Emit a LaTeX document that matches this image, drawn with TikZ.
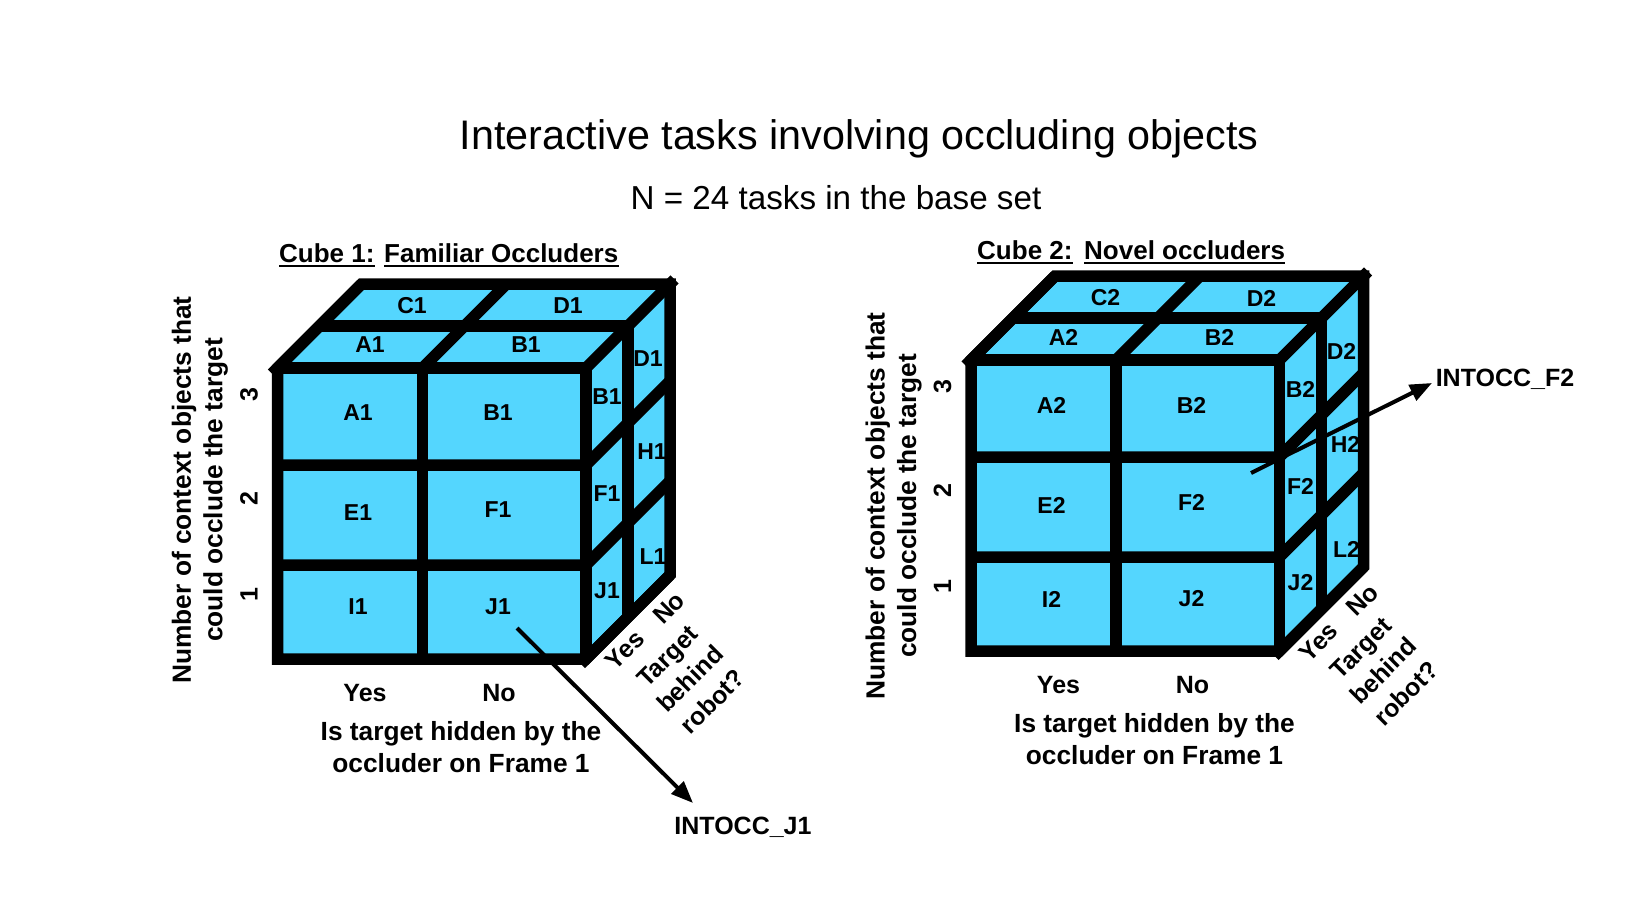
\documentclass[tikz,border=0pt]{standalone}
\usepackage{fontspec}
\setmainfont{Liberation Sans}
\usetikzlibrary{arrows.meta}
\definecolor{cub}{RGB}{84,214,254}
\tikzset{
  cell/.style={font=\bfseries\fontsize{23}{23}\selectfont, inner sep=0pt},
  axlbl/.style={font=\bfseries\fontsize{25}{32}\selectfont, inner sep=0pt, align=center},
  axbig/.style={font=\bfseries\fontsize{26.3}{31.5}\selectfont, inner sep=0pt, align=center},
  grid/.style={line width=11.5pt, line join=miter, black},
  pointer/.style={line width=4pt, -{Triangle[length=22pt,width=17pt]}},
  head/.style={font=\bfseries\fontsize{26}{26}\selectfont, inner sep=0pt, anchor=base west},
}
\newcommand\mycube[4]{%
\begin{scope}[shift={(#1,#2)}]
  \fill[cub] (277.5,368) rectangle (586,659);
  \fill[cub] (277.5,368) -- (361.5,284) -- (670,284) -- (586,368) -- cycle;
  \fill[cub] (586,368) -- (670,284) -- (670,575) -- (586,659) -- cycle;
  % front labels
  \node[cell] (fA#3) at (358,413) {A#3};
  \node[cell] (fB#3) at (498,413) {B#3};
  \node[cell] (fE#3) at (358,513) {E#3};
  \node[cell] (fF#3) at (498,510) {F#3};
  \node[cell] (fI#3) at (358,607) {I#3};
  \node[cell] (fJ#3) at (498,607) {J#3};
  % top labels
  \node[cell] (tC#3) at (412,306) {C#3};
  \node[cell] (tD#3) at (568,306) {D#3};
  \node[cell] (tA#3) at (370,345) {A#3};
  \node[cell] (tB#3) at (526,345) {B#3};
  % side labels
  \node[cell] (sB#3) at (607,397) {B#3};
  \node[cell] (sD#3) at (648,359) {D#3};
  \node[cell] (sF#3) at (607,494) {F#3};
  \node[cell] (sH#3) at (652,452) {H#3};
  \node[cell] (sJ#3) at (607,591) {J#3};
  \node[cell] (sL#3) at (653,557) {L#3};
  % grid
  \draw[grid] (277.5,659) -- (277.5,368) -- (361.5,284) -- (670,284) -- (670,575) -- (586,659) -- cycle;
  \draw[grid] (277.5,368) -- (586,368) -- (586,659);
  \draw[grid] (422.5,368) -- (422.5,659);
  \draw[grid] (277.5,465) -- (586,465) -- (670,381);
  \draw[grid] (277.5,565) -- (586,565) -- (670,481);
  \draw[grid] (319.5,326) -- (628,326) -- (628,617);
  \draw[grid] (422.5,368) -- (506.5,284);
  % slanted edges running slightly past the corners
  \draw[grid] (361.5,284) -- (272,373.5);
  \draw[grid] (586,368) -- (674.5,279.5);
  \draw[grid] (670,575) -- (581,664);
  % axis labels
  \node[axbig, rotate=90] (vax#3) at (200,#4) {Number of context objects that\\could occlude the target};
  \node[axlbl, rotate=90] (n3#3) at (249,395) {3};
  \node[axlbl, rotate=90] (n2#3) at (249,499) {2};
  \node[axlbl, rotate=90] (n1#3) at (249,595) {1};
  \node[axlbl] (hy#3) at (365,693) {Yes};
  \node[axlbl] (hn#3) at (499,693) {No};
  \node[axbig] (hq#3) at (461,747) {Is target hidden by the\\occluder on Frame 1};
  \node[axlbl, rotate=45] (dy#3) at (625,650) {Yes};
  \node[axlbl, rotate=45] (dn#3) at (669,608) {No};
  \node[axlbl, rotate=45] (dq#3) at (690,679) {Target\\behind\\robot?};
\end{scope}}
\begin{document}
\begin{tikzpicture}[x=1pt,y=-1pt]
  \fill[white] (0,0) rectangle (1638,908);
  \useasboundingbox (0,0) rectangle (1638,908);
  \node[font=\fontsize{41.3}{41.3}\selectfont, inner sep=0pt] (title) at (859,139) {Interactive tasks involving occluding objects};
  \node[font=\fontsize{33.2}{33.2}\selectfont, inner sep=0pt] (sub) at (836,198) {N = 24 tasks in the base set};
  \mycube{0}{0}{1}{490}
  \mycube{693.5}{-8}{2}{514}
  % headings
  \node[head] (h1a) at (279,262) {Cube 1:};
  \node[head] (h1b) at (384,262) {Familiar Occluders};
  \node[head] (h2a) at (977,259) {Cube 2:};
  \node[head] (h2b) at (1084,259) {Novel occluders};
  \foreach \n in {h1a,h1b,h2a,h2b}{
    \draw[line width=2pt] ([yshift=-4pt]\n.base west) -- ([yshift=-4pt]\n.base east);
  }
  % pointers
  \node[axlbl] (oj1) at (743,827) {INTOCC\_J1};
  \node[axlbl] (of2) at (1505,379) {INTOCC\_F2};
  \coordinate (sj1) at (517,628);
  \coordinate (ej1) at (693,803);
  \coordinate (sf2) at (1251,473);
  \coordinate (ef2) at (1432,383);
  \draw[pointer] (sj1) -- (ej1);
  \draw[pointer] (sf2) -- (ef2);
\end{tikzpicture}
\end{document}
